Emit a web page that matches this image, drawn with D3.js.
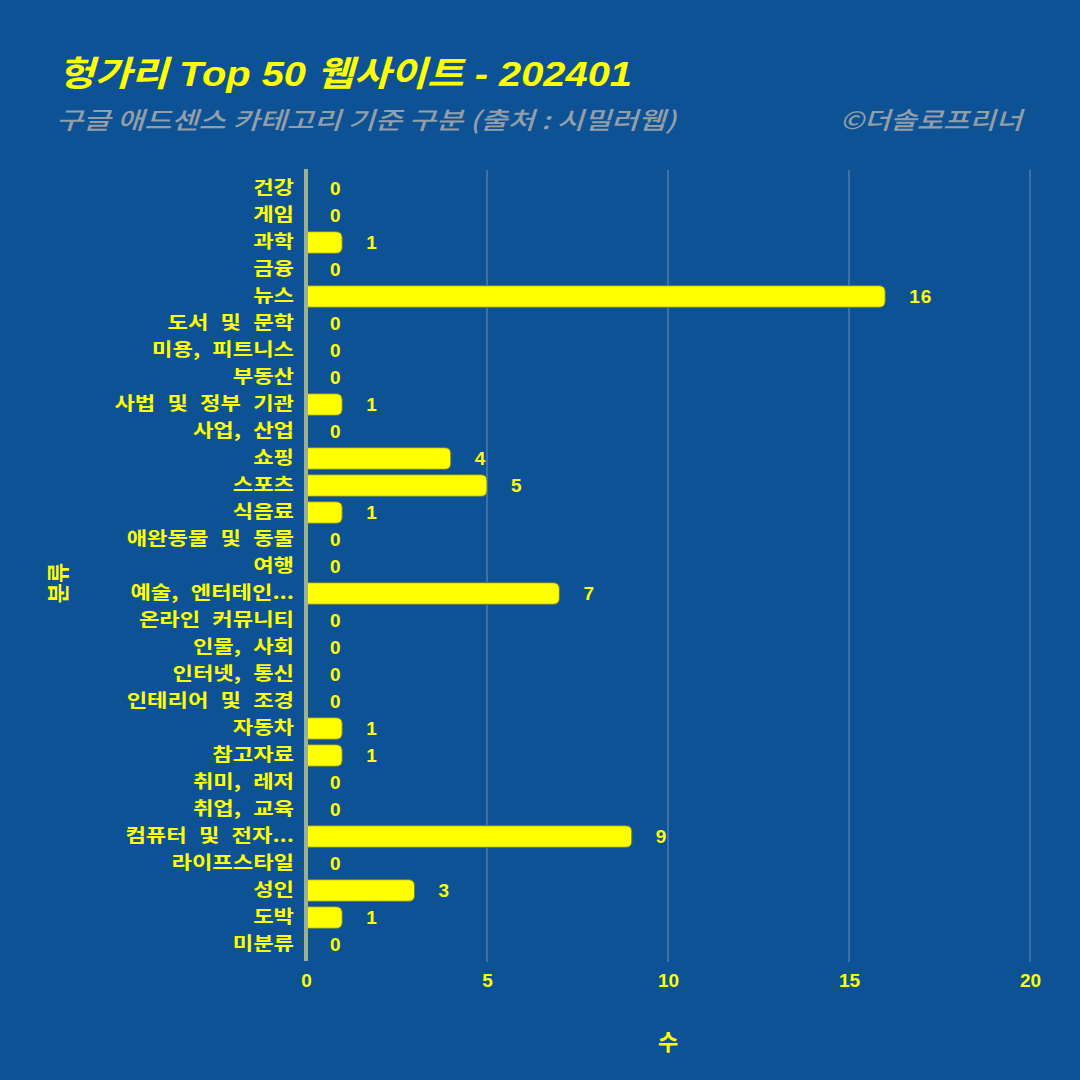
<!DOCTYPE html>
<html><head><meta charset="utf-8">
<script src="https://cdn.jsdelivr.net/npm/d3@7"></script>
<style>
html,body{margin:0;padding:0;background:#0d5295;}
svg{display:block;font-family:"Noto Sans CJK KR","Noto Sans",sans-serif;}
</style></head>
<body>
<script>
const categories = ["건강","게임","과학","금융","뉴스","도서 및 문학","미용, 피트니스","부동산","사법 및 정부 기관","사업, 산업","쇼핑","스포츠","식음료","애완동물 및 동물","여행","예술, 엔터테인...","온라인 커뮤니티","인물, 사회","인터넷, 통신","인테리어 및 조경","자동차","참고자료","취미, 레저","취업, 교육","컴퓨터 및 전자...","라이프스타일","성인","도박","미분류"];
const values = [0,0,1,0,16,0,0,0,1,0,4,5,1,0,0,7,0,0,0,0,1,1,0,0,9,0,3,1,0];
const xTicks = [0,5,10,15,20];
const titleText = "헝가리 Top 50 웹사이트 - 202401";
const subtitleText = "구글 애드센스 카테고리 기준 구분 (출처 : 시밀러웹)";
const creditText = "©더솔로프리너";
const xTitle = "수";
const yTitle = "분류";

const W = 1080, H = 1080;
const m = {left:306, right:1030, top:175, bottom:958};
const svg = d3.select("body").append("svg").attr("width",W).attr("height",H);
svg.append("rect").attr("width",W).attr("height",H).attr("fill","#0d5295");

const x = d3.scaleLinear().domain([0,20]).range([m.left,m.right]);
const y = d3.scaleBand().domain(categories).range([m.top,m.bottom]).paddingInner(0.2).paddingOuter(0.1);

// gridlines
svg.append("g").selectAll("line").data(xTicks.filter(d=>d>0)).join("line")
  .attr("x1",d=>x(d)).attr("x2",d=>x(d)).attr("y1",170).attr("y2",962)
  .attr("stroke","#5a86b8").attr("stroke-width",1.2);

// titles
svg.append("text").attr("x",58).attr("y",86).text(titleText)
  .attr("fill","#ffff00").attr("font-size",35).attr("font-weight","bold").attr("font-style","italic")
  .attr("font-family","'Liberation Sans','Noto Sans CJK KR',sans-serif")
  .attr("textLength",574).attr("lengthAdjust","spacingAndGlyphs");
svg.append("text").attr("x",56).attr("y",129).text(subtitleText)
  .attr("fill","#939ea9").attr("font-size",24).attr("font-style","italic").attr("font-weight",500)
  .attr("font-family","'Noto Sans CJK KR',sans-serif")
  .attr("textLength",620).attr("lengthAdjust","spacingAndGlyphs");
svg.append("text").attr("x",840).attr("y",129).text(creditText)
  .attr("fill","#939ea9").attr("font-size",24).attr("font-style","italic").attr("font-weight",500)
  .attr("font-family","'Noto Sans CJK KR',sans-serif")
  .attr("textLength",182).attr("lengthAdjust","spacingAndGlyphs");

// bars with rounded right end
const r = 6;
svg.append("g").selectAll("path").data(values.map((v,i)=>({c:categories[i],v}))).join("path")
  .filter(d=>d.v>0)
  .attr("d",d=>{
    const x0=x(0), x1=x(d.v), y0=y(d.c), h=y.bandwidth();
    return `M${x0},${y0}H${x1-r}Q${x1},${y0} ${x1},${y0+r}V${y0+h-r}Q${x1},${y0+h} ${x1-r},${y0+h}H${x0}Z`;
  })
  .attr("fill","#ffff00").attr("stroke","#6b7a3a").attr("stroke-width",1);

// value labels
svg.append("g").selectAll("text").data(values.map((v,i)=>({c:categories[i],v}))).join("text")
  .attr("x",d=>x(d.v)+24).attr("y",d=>y(d.c)+y.bandwidth()/2).attr("dy","0.36em")
  .text(d=>d.v)
  .attr("fill","#ffff00").attr("font-size",19).attr("font-weight","bold").attr("letter-spacing",1)
  .attr("font-family","'Liberation Sans',Arial,sans-serif");

// y axis
const sx = 1.2;
const yAxis = svg.append("g").attr("transform",`translate(${m.left},0)`)
  .call(d3.axisLeft(y).tickSize(0).tickPadding(12));
yAxis.select(".domain").remove();
yAxis.selectAll("text").attr("fill","#ffff00").attr("font-size",18.5).attr("font-weight","bold")
  .attr("word-spacing",6).attr("x",-12/sx).attr("transform",`scale(${sx},1)`)
  .attr("font-family","'Noto Sans CJK KR',sans-serif");
svg.append("line").attr("x1",m.left).attr("x2",m.left).attr("y1",169).attr("y2",961)
  .attr("stroke","#9fb08e").attr("stroke-width",4);

// x axis
const xAxis = svg.append("g").attr("transform",`translate(0,962)`)
  .call(d3.axisBottom(x).tickValues(xTicks).tickSize(0).tickPadding(12));
xAxis.select(".domain").remove();
xAxis.selectAll("text").attr("fill","#ffff00").attr("font-size",19).attr("font-weight","bold")
  .attr("font-family","'Liberation Sans',Arial,sans-serif");

svg.append("text").attr("x",668).attr("y",1050).attr("text-anchor","middle").text(xTitle)
  .attr("fill","#ffff00").attr("font-size",22).attr("font-weight","bold")
  .attr("font-family","'Noto Sans CJK KR',sans-serif");
svg.append("text").attr("transform","translate(66,583) rotate(-90)").attr("text-anchor","middle").text(yTitle)
  .attr("fill","#ffff00").attr("font-size",22).attr("font-weight","bold")
  .attr("font-family","'Noto Sans CJK KR',sans-serif");
</script>
</body></html>
